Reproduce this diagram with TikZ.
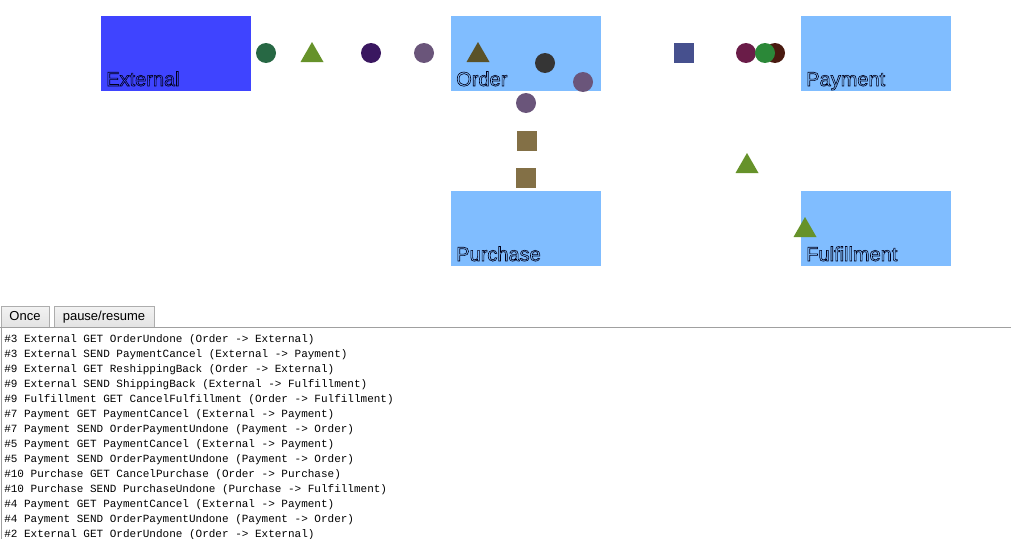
\documentclass[tikz,border=0pt]{standalone}
\usepackage{fontspec}
\setmainfont{Liberation Sans}
\newfontfamily\logfont{Liberation Mono}
\definecolor{extblue}{HTML}{3F44FF}
\definecolor{boxblue}{HTML}{80BDFF}
\definecolor{linegray}{HTML}{A0A0A0}
\definecolor{btnborder}{HTML}{ADADAD}
\definecolor{msgteal}{HTML}{276844}
\definecolor{msgindigo}{HTML}{3A1760}
\definecolor{msgmauve}{HTML}{6A557A}
\definecolor{msgcoal}{HTML}{353535}
\definecolor{msgkhaki}{HTML}{837046}
\definecolor{msgnavy}{HTML}{46508E}
\definecolor{msgplum}{HTML}{6A1C48}
\definecolor{msgrust}{HTML}{4A1A10}
\definecolor{msggreen}{HTML}{2B8838}
\definecolor{msglime}{HTML}{66922A}
\definecolor{msgolive}{HTML}{5A5228}
\newcommand{\outlinetext}[1]{\special{pdf:literal direct 1 Tr 0.45 w}#1\special{pdf:literal direct 0 Tr 0.3985 w}}
\begin{document}
\begin{tikzpicture}[x=0.75pt,y=-0.75pt,
    svcbox/.style={fill=#1,draw=none,minimum width=112.5pt,minimum height=56.25pt,inner sep=0,anchor=north west},
    svclabel/.style={anchor=base west,inner sep=0,font=\fontsize{15pt}{18pt}\selectfont,text=black!90!blue},
    msgdot/.style={circle,fill=#1,draw=none,minimum size=15pt,inner sep=0},
    msgsq/.style={rectangle,fill=#1,draw=none,minimum size=15pt,inner sep=0},
    btn/.style={draw=btnborder,top color=white!95!black,bottom color=white!89!black,minimum height=15.75pt,inner sep=0,text height=7pt,text depth=1.3pt,font=\fontsize{9.75pt}{11pt}\selectfont},
    logline/.style={anchor=base west,inner sep=0,font=\logfont\fontsize{8.25pt}{11.25pt}\selectfont}]
\useasboundingbox (0,0) rectangle (1011,539);
% services
\node[svcbox=extblue] (external) at (101,16) {};
\node[svcbox=boxblue] (order) at (451,16) {};
\node[svcbox=boxblue] (payment) at (801,16) {};
\node[svcbox=boxblue] (purchase) at (451,191) {};
\node[svcbox=boxblue] (fulfillment) at (801,191) {};
\node[svclabel] (externallbl) at (106,86) {\outlinetext{External}};
\node[svclabel] (orderlbl) at (456,86) {\outlinetext{Order}};
\node[svclabel] (paymentlbl) at (806,86) {\outlinetext{Payment}};
\node[svclabel] (purchaselbl) at (456,261) {\outlinetext{Purchase}};
\node[svclabel] (fulfillmentlbl) at (806,261) {\outlinetext{Fulfillment}};
% messages in flight
\node[msgdot=msgteal] (m1) at (266,53) {};
\node[msgdot=msgindigo] (m2) at (371,53) {};
\node[msgdot=msgmauve] (m3) at (424,53) {};
\node[msgdot=msgcoal] (m4) at (545,63) {};
\node[msgdot=msgmauve] (m5) at (583,82) {};
\node[msgdot=msgmauve] (m6) at (526,103) {};
\node[msgsq=msgkhaki] (m7) at (527,141) {};
\node[msgsq=msgkhaki] (m8) at (526,178) {};
\node[msgsq=msgnavy] (m9) at (684,53) {};
\node[msgdot=msgplum] (m10) at (746,53) {};
\node[msgdot=msgrust] (m11) at (775,53) {};
\node[msgdot=msggreen] (m12) at (765,53) {};
\foreach \Point/\Col in {(312,52)/msglime, (478,52)/msgolive, (747,163)/msglime, (805,227)/msglime}{
    \fill[\Col] \Point ++(-11.5,10) -- ++(23,0) -- ++(-11.5,-20) -- cycle;
}
% controls and log
\node[btn,minimum width=36pt] (once) at (25,316.5) {Once};
\node[btn,minimum width=75pt] (pause) at (104,316.5) {pause/resume};
\draw[linegray,line width=0.75pt] (0,327) -- (1011,327);
\draw[linegray,line width=0.75pt] (1,327) -- (1,539);
\foreach \Line [count=\i from 0] in {%
    {\#3 External GET OrderUndone (Order -> External)},
    {\#3 External SEND PaymentCancel (External -> Payment)},
    {\#9 External GET ReshippingBack (Order -> External)},
    {\#9 External SEND ShippingBack (External -> Fulfillment)},
    {\#9 Fulfillment GET CancelFulfillment (Order -> Fulfillment)},
    {\#7 Payment GET PaymentCancel (External -> Payment)},
    {\#7 Payment SEND OrderPaymentUndone (Payment -> Order)},
    {\#5 Payment GET PaymentCancel (External -> Payment)},
    {\#5 Payment SEND OrderPaymentUndone (Payment -> Order)},
    {\#10 Purchase GET CancelPurchase (Order -> Purchase)},
    {\#10 Purchase SEND PurchaseUndone (Purchase -> Fulfillment)},
    {\#4 Payment GET PaymentCancel (External -> Payment)},
    {\#4 Payment SEND OrderPaymentUndone (Payment -> Order)},
    {\#2 External GET OrderUndone (Order -> External)}}{
    \node[logline] (log\i) at (4,342+15*\i) {\Line};
}
\end{tikzpicture}
\end{document}
